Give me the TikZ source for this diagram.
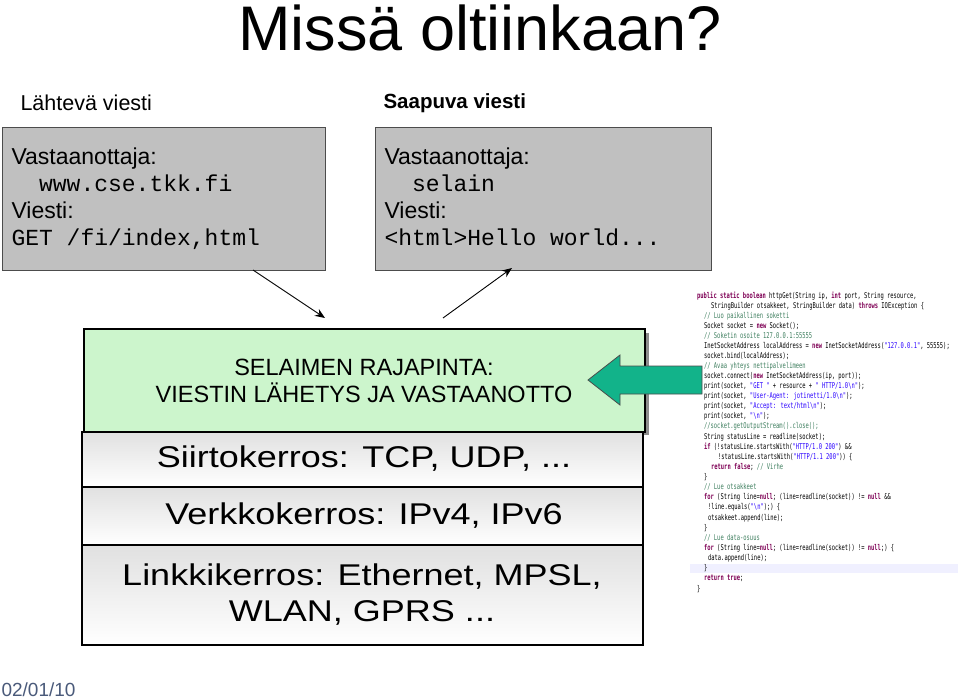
\documentclass[tikz,border=0pt]{standalone}
\usepackage{fontspec}
\setmainfont{Liberation Sans}
\newfontfamily\boxmono{Liberation Mono}
\newfontfamily\codefont{DejaVu Sans Mono}
\usetikzlibrary{arrows.meta}
\definecolor{boxgray}{HTML}{C0C0C0}
\definecolor{greenfill}{HTML}{CCF5CC}
\definecolor{arrowgreen}{HTML}{12B38A}
\definecolor{kw}{HTML}{7F0055}
\definecolor{cm}{HTML}{3F7F5F}
\definecolor{st}{HTML}{2A00FF}
\definecolor{datecol}{HTML}{4A5A7A}
\tikzset{
  msgbox/.style={draw=black!70, fill=boxgray, line width=0.8pt},
  layer/.style={draw=black, line width=2.5pt, top color=black!12, bottom color=white},
  layertext/.style={font=\fontsize{30}{36}\selectfont, align=center, xscale=1.2, transform shape},
  msgtext/.style={anchor=north west, align=left, font=\fontsize{23}{28}\selectfont},
  cl/.style={anchor=west, inner sep=0pt, font=\codefont\fontsize{8}{9}\selectfont, xscale=0.68, transform shape},
  conn/.style={line width=0.9pt, -{Stealth[length=10pt,width=8pt]}}
}
\newcommand{\K}[1]{{\bfseries\color{kw}#1}}
\newcommand{\C}[1]{{\color{cm}#1}}
\newcommand{\Sg}[1]{{\color{st}#1}}
\begin{document}
\begin{tikzpicture}[x=1pt,y=-1pt]
\useasboundingbox (0,0) rectangle (960,700);
\fill[white] (0,0) rectangle (960,700);
% title
\node (title) at (480,28) {\fontsize{63}{63}\selectfont Missä oltiinkaan?};
\node[anchor=west] (lh) at (17,103) {\fontsize{21.5}{22}\selectfont Lähtevä viesti};
\node[anchor=west] (sh) at (380,103) {\fontsize{20.5}{22}\selectfont\bfseries Saapuva viesti};
% message boxes
\draw[msgbox] (2,127) rectangle (325,270);
\coordinate (lboxs) at (253,270);
\node[msgtext] (ltext) at (8,144) {Vastaanottaja:\\[-1pt]{\boxmono\ \ www.cse.tkk.fi}\\[-1pt]Viesti:\\[-1pt]{\boxmono GET /fi/index,html}};
\draw[msgbox] (375,127) rectangle (711,270);
\coordinate (rboxs) at (512,268);
\node[msgtext] (rtext) at (381,144) {Vastaanottaja:\\[-1pt]{\boxmono\ \ selain}\\[-1pt]Viesti:\\[-1pt]{\boxmono <html>Hello world...}};
% code
\begin{scope}
\fill[blue!6] (690,564) rectangle (958,573);
\def\bx{697}
\node[cl] (c1) at (\bx,296) {\K{public static boolean} httpGet(String ip, \K{int} port, String resource,};
\node[cl] (c2) at (\bx+14,306) {StringBuilder otsakkeet, StringBuilder data) \K{throws} IOException \{};
\node[cl] (c3) at (\bx+7,316) {\C{// Luo paikallinen soketti}};
\node[cl] (c4) at (\bx+7,326) {Socket socket = \K{new} Socket();};
\node[cl] (c5) at (\bx+7,336) {\C{// Soketin osoite 127.0.0.1:55555}};
\node[cl] (c6) at (\bx+7,346) {InetSocketAddress localAddress = \K{new} InetSocketAddress(\Sg{"127.0.0.1"}, 55555);};
\node[cl] (c7) at (\bx+7,356) {socket.bind(localAddress);};
\node[cl] (c8) at (\bx+7,366) {\C{// Avaa yhteys nettipalvelimeen}};
\node[cl] (c9) at (\bx+7,376) {socket.connect(\K{new} InetSocketAddress(ip, port));};
\node[cl] (c10) at (\bx+7,386) {print(socket, \Sg{"GET "} + resource + \Sg{" HTTP/1.0\textbackslash n"});};
\node[cl] (c11) at (\bx+7,396) {print(socket, \Sg{"User-Agent: jotinetti/1.0\textbackslash n"});};
\node[cl] (c12) at (\bx+7,406) {print(socket, \Sg{"Accept: text/html\textbackslash n"});};
\node[cl] (c13) at (\bx+7,416) {print(socket, \Sg{"\textbackslash n"});};
\node[cl] (c14) at (\bx+7,426) {\C{//socket.getOutputStream().close();}};
\node[cl] (c15) at (\bx+7,437) {String statusLine = readline(socket);};
\node[cl] (c16) at (\bx+7,447) {\K{if} (!statusLine.startsWith(\Sg{"HTTP/1.0 200"}) \&\&};
\node[cl] (c17) at (\bx+21,457) {!statusLine.startsWith(\Sg{"HTTP/1.1 200"})) \{};
\node[cl] (c18) at (\bx+14,467) {\K{return false}; \C{// Virhe}};
\node[cl] (c19) at (\bx+7,477) {\}};
\node[cl] (c20) at (\bx+7,487) {\C{// Lue otsakkeet}};
\node[cl] (c21) at (\bx+7,497) {\K{for} (String line=\K{null}; (line=readline(socket)) != \K{null} \&\&};
\node[cl] (c22) at (\bx+11,507) {!line.equals(\Sg{"\textbackslash n"});) \{};
\node[cl] (c23) at (\bx+11,518) {otsakkeet.append(line);};
\node[cl] (c24) at (\bx+7,528) {\}};
\node[cl] (c25) at (\bx+7,538) {\C{// Lue data-osuus}};
\node[cl] (c26) at (\bx+7,548) {\K{for} (String line=\K{null}; (line=readline(socket)) != \K{null};) \{};
\node[cl] (c27) at (\bx+11,558) {data.append(line);};
\node[cl] (c28) at (\bx+7,568) {\}};
\node[cl] (c29) at (\bx+7,578) {\K{return true};};
\node[cl] (c30) at (\bx,589) {\}};
\end{scope}
% layer stack
\fill[black!45] (88,333) rectangle (649,435);
\draw[layer] (82,432) rectangle (643,487);
\draw[layer] (82,487) rectangle (643,545);
\draw[layer] (82,545) rectangle (643,645);
\draw[draw=black, line width=2.5pt, fill=greenfill] (84,329) rectangle (645,432);
\node[align=center, font=\fontsize{23.5}{27}\selectfont] (api) at (364,381) {SELAIMEN RAJAPINTA:\\VIESTIN LÄHETYS JA VASTAANOTTO};
\node[layertext] (siirto) at (364,459) {Siirtokerros: TCP, UDP, ...};
\node[layertext] (verkko) at (364,516) {Verkkokerros: IPv4, IPv6};
\node[layertext] (linkki) at (362,595) {Linkkikerros: Ethernet, MPSL,\\WLAN, GPRS ...};
\coordinate (apiin) at (325,318);
\coordinate (apiout) at (443,318);
% connectors
\draw[conn] (lboxs) -- (apiin);
\draw[conn] (apiout) -- (rboxs);
% green arrow
\draw[fill=arrowgreen, draw=black!70, line width=0.8pt] (588,380) -- (620,355) -- (620,366) -- (702,366) -- (702,394) -- (620,394) -- (620,405) -- cycle;
% date
\node[anchor=west, text=datecol] (date) at (-2,690) {\fontsize{19}{20}\selectfont 02/01/10};
\end{tikzpicture}
\end{document}
